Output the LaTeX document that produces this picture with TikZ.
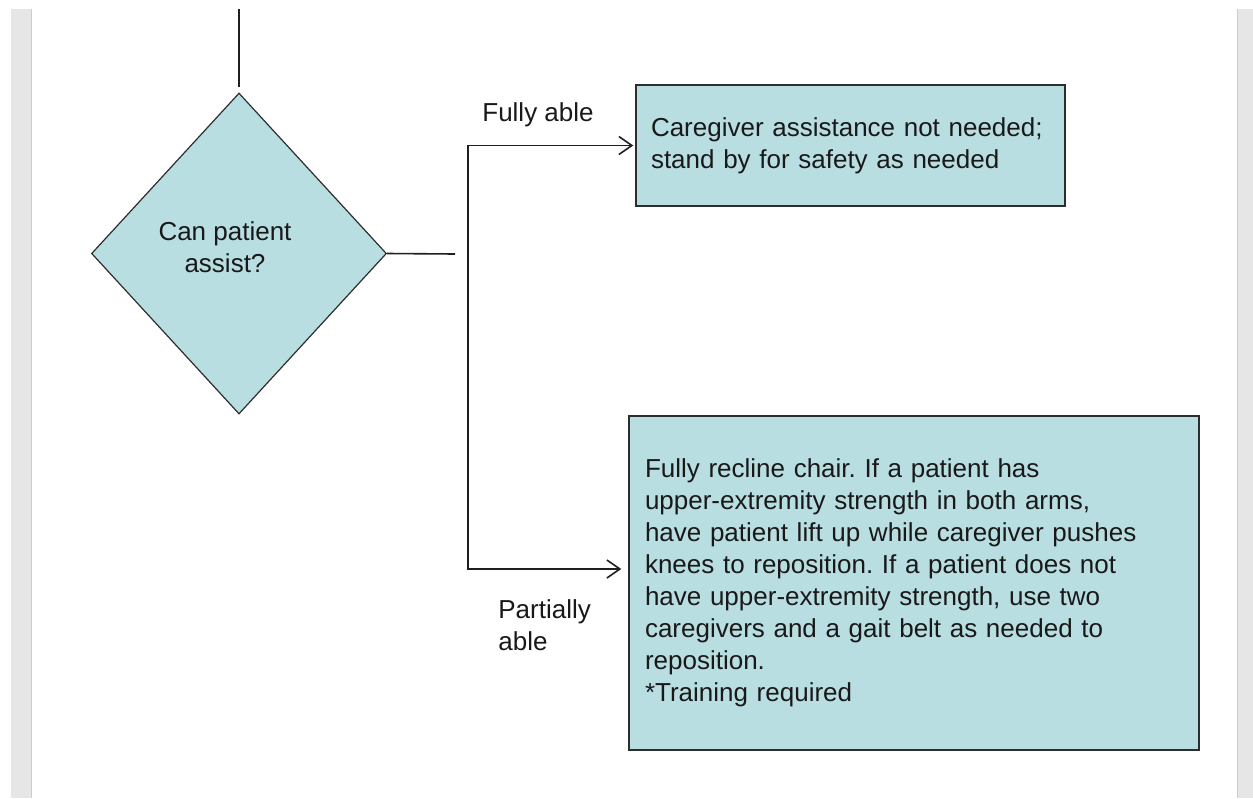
\documentclass[tikz,border=0pt]{standalone}
\usepackage{fontspec}
\setmainfont{Liberation Sans}
\usetikzlibrary{shapes.geometric,arrows.meta}
\definecolor{boxteal}{RGB}{185,222,226}
\definecolor{edgegray}{RGB}{45,45,45}
\definecolor{pagegray}{RGB}{230,230,230}
\definecolor{pageline}{RGB}{205,205,205}
\frenchspacing

\begin{document}
\begin{tikzpicture}[
  x=0.5pt, y=-0.5pt,
  txt/.style={font=\fontsize{13}{16}\selectfont, text=black!90},
  box/.style={
    txt, draw=edgegray, fill=boxteal, line width=0.7pt,
    align=left, inner ysep=0pt
  },
  decision/.style={
    txt, diamond, draw=edgegray, fill=boxteal, line width=0.6pt,
    inner sep=0pt, align=center,
    minimum width=147.5pt, minimum height=160.5pt
  },
  lbl/.style={txt, align=left, inner sep=0pt},
  link/.style={line width=0.8pt, draw=black!88},
  arr/.style={link, -{Straight Barb[length=6.5pt, width=9pt, line width=0.8pt]}}
]

%% ── PAGE ──
\useasboundingbox (0,0) rectangle (1253,798);
\fill[white] (0,0) rectangle (1253,798);
\fill[pagegray] (11,9) rectangle (32,798);
\draw[pageline, line width=0.8pt] (31.5,9) -- (31.5,798);
\fill[pagegray] (1237,9) rectangle (1253,798);
\draw[pageline, line width=0.8pt] (1237.5,9) -- (1237.5,798);

%% ── DECISION ──
\node[decision,
      label={[lbl, align=center, xshift=-7pt, yshift=3pt]center:Can patient\\assist?}]
  (assist) at (239,253.5) {};
\coordinate (top) at (239,9);
\draw[link, shorten >=2.5pt] (top) -- (assist.north);

%% ── OUTCOMES ──
\node[box, minimum width=214.5pt, minimum height=60.5pt,
      text width=199.5pt, inner xsep=7.5pt] (full) at (850.5,145.5)
  {Caregiver assistance not needed;\\
   stand by for safety as needed};
\node[box, minimum width=285pt, minimum height=167pt,
      text width=269pt, inner xsep=8pt] (part) at (914,583)
  {Fully recline chair. If a patient has\\
   upper-extremity strength in both arms,\\
   have patient lift up while caregiver pushes\\
   knees to reposition. If a patient does not\\
   have upper-extremity strength, use two\\
   caregivers and a gait belt as needed to\\
   reposition.\\
   {*}Training required};

%% ── BRANCHES ──
\coordinate (stub) at (455,254);
\coordinate (fork) at (468,254);
\draw[link] (assist.east) -- (stub);
\draw[arr, shorten >=1pt] (fork) |- (full.west);
\draw[arr, shorten >=3.5pt] (fork) |- ([yshift=7pt]part.west);

%% ── BRANCH LABELS ──
\node[lbl] (fullylbl) at (538,115) {Fully able};
\node[lbl, anchor=west] (partlbl) at (498,625) {Partially\\able};

\end{tikzpicture}
\end{document}
